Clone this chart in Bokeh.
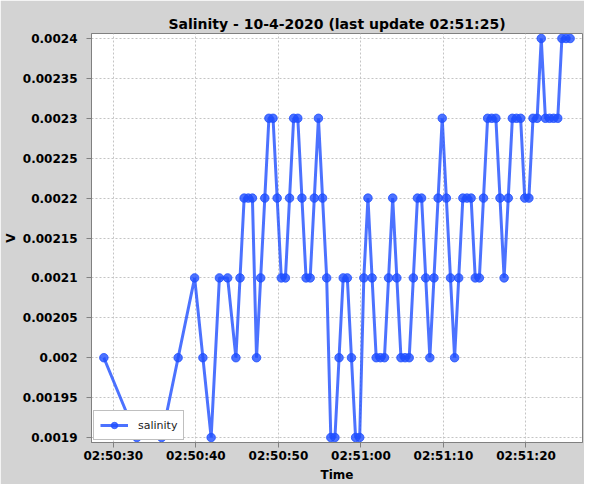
import pandas as pd
from bokeh.plotting import figure
from bokeh.models import Range1d, FixedTicker, DatetimeTickFormatter, CustomJSTickFormatter, ColumnDataSource
from bokeh.embed import file_html
from bokeh.resources import INLINE

date = "2020-04-10"
title_text = "Salinity - 10-4-2020 (last update 02:51:25)"

times = [
    "02:50:28.85", "02:50:32.85", "02:50:35.85", "02:50:37.85", "02:50:39.85",
    "02:50:40.85", "02:50:41.85", "02:50:42.85", "02:50:43.85", "02:50:44.85",
    "02:50:45.35", "02:50:45.85", "02:50:46.35", "02:50:46.85", "02:50:47.35",
    "02:50:47.85", "02:50:48.35", "02:50:48.85", "02:50:49.35", "02:50:49.85",
    "02:50:50.35", "02:50:50.85", "02:50:51.35", "02:50:51.85", "02:50:52.35",
    "02:50:52.85", "02:50:53.35", "02:50:53.85", "02:50:54.35", "02:50:54.85",
    "02:50:55.35", "02:50:55.85", "02:50:56.35", "02:50:56.85", "02:50:57.35",
    "02:50:57.85", "02:50:58.35", "02:50:58.85", "02:50:59.35", "02:50:59.85",
    "02:51:00.35", "02:51:00.85", "02:51:01.35", "02:51:01.85", "02:51:02.35",
    "02:51:02.85", "02:51:03.35", "02:51:03.85", "02:51:04.35", "02:51:04.85",
    "02:51:05.35", "02:51:05.85", "02:51:06.35", "02:51:06.85", "02:51:07.35",
    "02:51:07.85", "02:51:08.35", "02:51:08.85", "02:51:09.35", "02:51:09.85",
    "02:51:10.35", "02:51:10.85", "02:51:11.35", "02:51:11.85", "02:51:12.35",
    "02:51:12.85", "02:51:13.35", "02:51:13.85", "02:51:14.35", "02:51:14.85",
    "02:51:15.35", "02:51:15.85", "02:51:16.35", "02:51:16.85", "02:51:17.35",
    "02:51:17.85", "02:51:18.35", "02:51:18.85", "02:51:19.35", "02:51:19.85",
    "02:51:20.35", "02:51:20.85", "02:51:21.35", "02:51:21.85", "02:51:22.35",
    "02:51:22.85", "02:51:23.35", "02:51:23.85", "02:51:24.35", "02:51:24.85",
    "02:51:25.35",
]

salinity = [
    0.002, 0.0019, 0.0019, 0.002, 0.0021, 0.002, 0.0019, 0.0021, 0.0021, 0.002,
    0.0021, 0.0022, 0.0022, 0.0022, 0.002, 0.0021, 0.0022, 0.0023, 0.0023, 0.0022,
    0.0021, 0.0021, 0.0022, 0.0023, 0.0023, 0.0022, 0.0021, 0.0021, 0.0022, 0.0023,
    0.0022, 0.0021, 0.0019, 0.0019, 0.002, 0.0021, 0.0021, 0.002, 0.0019, 0.0019,
    0.0021, 0.0022, 0.0021, 0.002, 0.002, 0.002, 0.0021, 0.0022, 0.0021, 0.002,
    0.002, 0.002, 0.0021, 0.0022, 0.0022, 0.0021, 0.002, 0.0021, 0.0022, 0.0023,
    0.0022, 0.0021, 0.002, 0.0021, 0.0022, 0.0022, 0.0022, 0.0021, 0.0021, 0.0022,
    0.0023, 0.0023, 0.0023, 0.0022, 0.0021, 0.0022, 0.0023, 0.0023, 0.0023, 0.0022,
    0.0022, 0.0023, 0.0023, 0.0024, 0.0023, 0.0023, 0.0023, 0.0023, 0.0024, 0.0024,
    0.0024,
]

x_tick_labels = ["02:50:30", "02:50:40", "02:50:50", "02:51:00", "02:51:10", "02:51:20"]
y_ticks = [0.0019, 0.00195, 0.002, 0.00205, 0.0021, 0.00215, 0.0022, 0.00225, 0.0023, 0.00235, 0.0024]

t = pd.to_datetime([f"{date} {s}" for s in times])
src = ColumnDataSource(dict(t=t, v=salinity))

tmin, tmax = t.min(), t.max()
xpad = (tmax - tmin) * 0.0265
ymin, ymax = min(salinity), max(salinity)
ypad = (ymax - ymin) * 0.0125

FONT = "DejaVu Sans"
GRAY = "#808080"

p = figure(
    width=584, height=484,
    x_axis_type="datetime",
    output_backend="svg", toolbar_location=None,
    x_range=Range1d((tmin - xpad).to_pydatetime(), (tmax + xpad).to_pydatetime()),
    y_range=Range1d(ymin - ypad, ymax + ypad),
    title=title_text,
    min_border_left=87, min_border_right=2, min_border_top=33, min_border_bottom=35,
)

p.background_fill_color = "white"
p.border_fill_color = "#d3d3d3"
p.outline_line_color = GRAY
p.outline_line_width = 1

p.title.text_font = FONT
p.title.text_font_size = "14px"
p.title.text_font_style = "bold"
p.title.align = "center"
p.title.text_color = "black"
p.title.standoff = 3

color = "#1f4fff"
p.line("t", "v", source=src, line_color=color, line_width=3, line_alpha=0.8, legend_label="salinity")
p.scatter("t", "v", source=src, marker="circle", size=8.5, fill_color=color, line_color=color,
          fill_alpha=0.8, line_alpha=0.8, legend_label="salinity")

x_ticks = [pd.Timestamp(f"{date} {s}").value / 1e6 for s in x_tick_labels]
p.xaxis.ticker = FixedTicker(ticks=x_ticks)
fmt = "%H:%M:%S"
p.xaxis.formatter = DatetimeTickFormatter(seconds=fmt, minsec=fmt, minutes=fmt, hourmin=fmt,
                                          hours=fmt, milliseconds=fmt)
p.yaxis.ticker = FixedTicker(ticks=y_ticks)
p.yaxis.formatter = CustomJSTickFormatter(code="return String(Number(tick.toFixed(6)));")

p.xaxis.axis_label = "Time"
p.yaxis.axis_label = "V"

for ax in (p.xaxis[0], p.yaxis[0]):
    ax.axis_line_color = GRAY
    ax.major_tick_line_color = GRAY
    ax.minor_tick_line_color = None
    ax.major_tick_out = 5
    ax.major_tick_in = 0
    ax.major_label_text_font = FONT
    ax.major_label_text_font_size = "12px"
    ax.major_label_text_font_style = "bold"
    ax.major_label_text_color = "black"
    ax.axis_label_text_font = FONT
    ax.axis_label_text_font_size = "12px"
    ax.axis_label_text_font_style = "bold"
    ax.axis_label_text_color = "black"

p.xaxis.major_label_standoff = 1
p.xaxis.axis_label_standoff = 2
p.yaxis.major_label_standoff = 9
p.yaxis.axis_label_standoff = 2

for g in (p.xgrid[0], p.ygrid[0]):
    g.grid_line_color = "#c4c4c4"
    g.grid_line_dash = "2 2"
    g.grid_line_width = 1

lg = p.legend[0]
lg.location = "bottom_left"
lg.margin = 2
lg.padding = 6
lg.spacing = 0
lg.border_line_color = GRAY
lg.border_line_width = 1
lg.background_fill_color = "white"
lg.background_fill_alpha = 1
lg.label_text_font = FONT
lg.label_text_font_size = "11px"
lg.label_text_color = "#222222"
lg.glyph_width = 28
lg.glyph_height = 16
lg.label_standoff = 10

open("out.html", "w").write(file_html(p, INLINE))
